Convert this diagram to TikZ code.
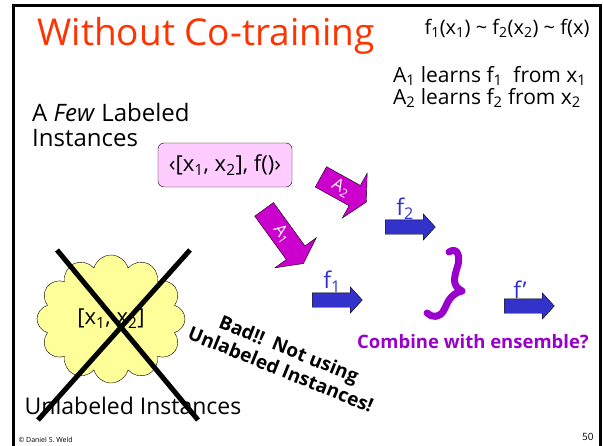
\documentclass[tikz,border=0pt]{standalone}
\usepackage{fontspec}
\setmainfont{Open Sans}
\usetikzlibrary{shapes.arrows,shapes.symbols,positioning}
\definecolor{titlered}{HTML}{FF3300}
\definecolor{pairpink}{HTML}{FFCCFF}
\definecolor{learnmag}{HTML}{CC00CC}
\definecolor{fblue}{HTML}{3333CC}
\definecolor{combpurple}{HTML}{9900CC}
\definecolor{poolyellow}{HTML}{FFFF99}
\newcommand{\sub}[1]{\textsubscript{#1}}
\newcommand{\fs}[1]{\fontsize{#1}{#1}\selectfont}

\begin{document}
\begin{tikzpicture}[x=1pt,y=-1pt,
  learner/.style={single arrow,draw=black,fill=learnmag,text=white,font=\fs{17},
    inner sep=4pt,single arrow head extend=14pt,single arrow tip angle=125,
    minimum height=#1},
  hyparrow/.style={single arrow,draw=black,fill=fblue,inner xsep=0pt,inner ysep=7pt,
    single arrow head extend=6pt,single arrow tip angle=95,minimum height=50pt},
  flabel/.style={text=fblue,font=\fs{23},inner sep=1pt}]
  \useasboundingbox (0,0) rectangle (604,446);
  % slide frame
  \draw[line width=3pt] (13,452) -- (13,6) -- (600,6) -- (600,452);

  % header
  \node[anchor=west,text=titlered,font=\fs{37}] (title) at (34,36) {Without Co-training};
  \node[anchor=east,font=\fs{20}] (rel) at (593,28)
    {f\sub{1}(x\sub{1})\ \textasciitilde\ f\sub{2}(x\sub{2})\ \textasciitilde\ f(x)};
  \node[anchor=north west,align=left,font=\fs{21},inner sep=0pt] (learns) at (393,66)
    {A\sub{1} learns f\sub{1}\ \ from x\sub{1}\\[1pt]A\sub{2} learns f\sub{2} from x\sub{2}};

  % labeled data
  \node[anchor=north west,align=left,font=\fs{24},inner sep=0pt] (few) at (32,103)
    {A \textit{Few} Labeled\\[1pt]Instances};
  \node[draw=black,fill=pairpink,rounded corners=6pt,minimum width=134pt,minimum height=44pt,
    font=\fs{22}] (pair) at (225,165) {‹[x\sub{1}, x\sub{2}], f()›};

  % learners
  \node[learner=67pt,rotate=-54] (lrnA) at (282,234) {A\sub{1}};
  \node[learner=52pt,rotate=-29] (lrnB) at (341,188) {A\sub{2}};

  % hypotheses
  \node[hyparrow] (hypB) at (407,227) {};
  \node[hyparrow] (hypA) at (334,300) {};
  \node[hyparrow] (hypC) at (526,306) {};
  \node[flabel,above=-1pt of hypB,xshift=-2pt] (fB) {f\sub{2}};
  \node[flabel,above=-1pt of hypA,xshift=-2pt] (fA) {f\sub{1}};
  \node[flabel,above=-1pt of hypC,xshift=-6pt] (fC) {f'};

  % ensemble brace
  \draw[combpurple,line width=7pt,line cap=round,line join=round]
    (449,252) .. controls (458,246) and (461,258) .. (457,268)
    .. controls (454,278) and (452,286) .. (462,291)
    .. controls (449,294) and (447,305) .. (444,310)
    .. controls (440,318) and (432,318) .. (427,313);
  \node[text=combpurple,font=\bfseries\fs{18.5}] (comb) at (473,342) {Combine with ensemble?};

  % unlabeled pool
  \node[cloud,cloud puffs=12,draw=black,fill=poolyellow,minimum width=148pt,minimum height=128pt,
    font=\fs{22}] (pool) at (111,319) {[x\sub{1}, x\sub{2}]};
  \draw[line width=5pt] (57,250) -- (198,420);
  \draw[line width=5pt] (190,250) -- (38,420);
  \node[font=\fs{23}] (unl) at (133,406) {Unlabeled Instances};
  \node[font=\bfseries\fs{19},align=center,rotate=-22] (bad) at (285,359)
    {Bad!!\ \ Not using\\[3pt]Unlabeled Instances!};

  % footer
  \node[anchor=west,font=\fs{7}] (credit) at (15,440) {© Daniel S. Weld};
  \node[anchor=east,font=\fs{10}] (page) at (597,437) {50};
\end{tikzpicture}
\end{document}
